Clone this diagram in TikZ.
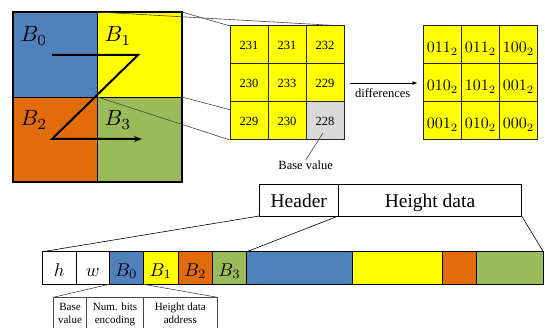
\documentclass[tikz,border=0pt]{standalone}
\usepackage{fontspec}
\usepackage{graphicx}
\setmainfont{Liberation Serif}
\usetikzlibrary{arrows.meta}
\definecolor{cblue}{RGB}{79,129,189}
\definecolor{corange}{RGB}{227,108,10}
\definecolor{cgreen}{RGB}{155,187,89}
\definecolor{cyellow}{RGB}{255,255,0}
\definecolor{cgray}{RGB}{217,217,217}
\definecolor{lgray}{RGB}{70,70,70}
\newcommand{\scmath}[2]{\scalebox{#1}{\fontsize{10}{12}\selectfont$#2$}}
\begin{document}
\begin{tikzpicture}[x=1pt,y=-1pt,
  quad/.style={draw=black, line width=0.8pt, minimum width=84.5pt, minimum height=85pt, inner sep=0pt, outer sep=0pt},
  qlab/.style={inner sep=0pt},
  cell/.style={draw=black!85, line width=1pt, fill=cyellow, minimum size=38pt, inner sep=0pt, outer sep=0pt,
    font=\fontsize{12.5}{12.5}\selectfont, text height=9.5pt, text depth=0pt},
  bcell/.style={cell, text height=16pt, text depth=0pt},
  zoomline/.style={draw=lgray, line width=0.6pt},
  lbl/.style={font=\fontsize{12.5}{12.5}\selectfont, inner sep=1pt},
  hbox/.style={draw=black, line width=0.8pt, minimum height=32pt, inner sep=0pt, outer sep=0pt,
    font=\fontsize{19.5}{19.5}\selectfont, text height=16pt, text depth=0pt},
  scell/.style={draw=black, line width=0.9pt, minimum height=32.5pt, inner sep=0pt, outer sep=0pt,
    text height=16pt, text depth=0pt},
  tcell/.style={draw=lgray, line width=0.6pt, minimum height=50pt, inner sep=0pt, outer sep=0pt, anchor=north},
  ttxt/.style={font=\fontsize{11}{13}\selectfont, align=center, inner sep=0pt, anchor=north},
  conn/.style={draw=black, line width=0.6pt}
]
\useasboundingbox (0,0) rectangle (545,328);
\clip (0,0) rectangle (545,328);

% big square
\node[quad, fill=cblue]   (q0) at (55.25,54.5) {};
\node[quad, fill=cyellow] (q1) at (139.75,54.5) {};
\node[quad, fill=corange] (q2) at (55.25,139.5) {};
\node[quad, fill=cgreen]  (q3) at (139.75,139.5) {};
\draw[line width=2.5pt] (q0.north west) rectangle (q3.south east);
\node[qlab] (l0) at (34,36) {\scmath{2.2}{B_0}};
\node[qlab] (l1) at (118,36) {\scmath{2.2}{B_1}};
\node[qlab] (l2) at (34,120) {\scmath{2.2}{B_2}};
\node[qlab] (l3) at (118,120) {\scmath{2.2}{B_3}};
\coordinate (z1) at (52,55);
\coordinate (z2) at (138,55);
\coordinate (z3) at (52,139);
\coordinate (z4) at (142,139);
\draw[line width=2pt, -{Stealth[length=8pt,width=6pt]}] (z1) -- (z2) -- (z3) -- (z4);

% grid 1 frame positions for the zoom lines
\path (249,45) node[cell, draw=none, fill=none] (g11) {}
      (325,45) node[cell, draw=none, fill=none] (g13) {}
      (249,121) node[cell, draw=none, fill=none] (g31) {}
      (325,121) node[cell, draw=none, fill=none] (g33) {};
\draw[zoomline] (q1.north west) -- (g13.north east);
\draw[zoomline] (q1.north east) -- (g11.north west);
\draw[zoomline] (q1.south west) -- (g31.south west);
\draw[zoomline] (q1.south east) -- (g33.south east);

\node[cell] (a11) at (249,45) {231};
\node[cell] (a12) at (287,45) {231};
\node[cell] (a13) at (325,45) {232};
\node[cell] (a21) at (249,83) {230};
\node[cell] (a22) at (287,83) {233};
\node[cell] (a23) at (325,83) {229};
\node[cell] (a31) at (249,121) {229};
\node[cell] (a32) at (287,121) {230};
\node[cell, fill=cgray] (a33) at (325,121) {228};

% grid 2
\node[bcell] (b11) at (442.5,45) {\scmath{1.6}{011_2}};
\node[bcell] (b12) at (480.5,45) {\scmath{1.6}{011_2}};
\node[bcell] (b13) at (518.5,45) {\scmath{1.6}{100_2}};
\node[bcell] (b21) at (442.5,83) {\scmath{1.6}{010_2}};
\node[bcell] (b22) at (480.5,83) {\scmath{1.6}{101_2}};
\node[bcell] (b23) at (518.5,83) {\scmath{1.6}{001_2}};
\node[bcell] (b31) at (442.5,121) {\scmath{1.6}{001_2}};
\node[bcell] (b32) at (480.5,121) {\scmath{1.6}{010_2}};
\node[bcell] (b33) at (518.5,121) {\scmath{1.6}{000_2}};

\draw[line width=0.7pt, -{Latex[length=5pt,width=4pt]}] ([xshift=6pt]a23.east) -- ([xshift=-6pt]b21.west);
\node[lbl] (diff) at (382.7,93.5) {differences};

\node[lbl] (bv) at (305.7,165.5) {Base value};
\coordinate (bvtip) at (323,133);
\draw[draw=lgray, line width=0.6pt] (bvtip) -- (bv.north);

% header
\node[hbox, minimum width=79pt] (hdr) at (298.8,200) {Header};
\node[hbox, minimum width=183.4pt] (hd) at (430,200) {Height data};

% strip
\node[scell, minimum width=33.7pt] (sh) at (59.15,268) {\scmath{1.85}{h}};
\node[scell, minimum width=33.3pt] (sw) at (92.65,268) {\scmath{1.85}{w}};
\node[scell, minimum width=34pt, fill=cblue] (s0) at (126.3,268) {\scmath{1.85}{B_0}};
\node[scell, minimum width=35pt, fill=cyellow] (s1) at (160.8,268) {\scmath{1.85}{B_1}};
\node[scell, minimum width=34pt, fill=corange] (s2) at (195.3,268) {\scmath{1.85}{B_2}};
\node[scell, minimum width=34.4pt, fill=cgreen] (s3) at (229.5,268) {\scmath{1.85}{B_3}};
\node[scell, minimum width=105.6pt, fill=cblue] (d0) at (299.5,268) {};
\node[scell, minimum width=90pt, fill=cyellow] (d1) at (397.3,268) {};
\node[scell, minimum width=34.4pt, fill=corange] (d2) at (459.5,268) {};
\node[scell, minimum width=66.6pt, fill=cgreen] (d3) at (510,268) {};

\draw[conn] (hdr.south west) -- (sh.north west);
\draw[conn] (hdr.south east) -- (d0.north west);
\draw[conn] (hd.south east) -- (d3.north east);

% table
\node[tcell, minimum width=33.4pt] (t1) at (70,297.3) {};
\node[tcell, minimum width=56.6pt] (t2) at (115,297.3) {};
\node[tcell, minimum width=74pt] (t3) at (180.3,297.3) {};
\node[ttxt] (tx1) at ([yshift=-5.5pt]t1.north) {Base\\value};
\node[ttxt] (tx2) at ([yshift=-5.5pt]t2.north) {Num. bits\\encoding};
\node[ttxt] (tx3) at ([yshift=-5.5pt]t3.north) {Height data\\address};
\draw[draw=lgray, line width=0.6pt] (s0.south west) -- (t1.north west);
\draw[draw=lgray, line width=0.6pt] (s0.south east) -- (t3.north east);
\end{tikzpicture}
\end{document}
